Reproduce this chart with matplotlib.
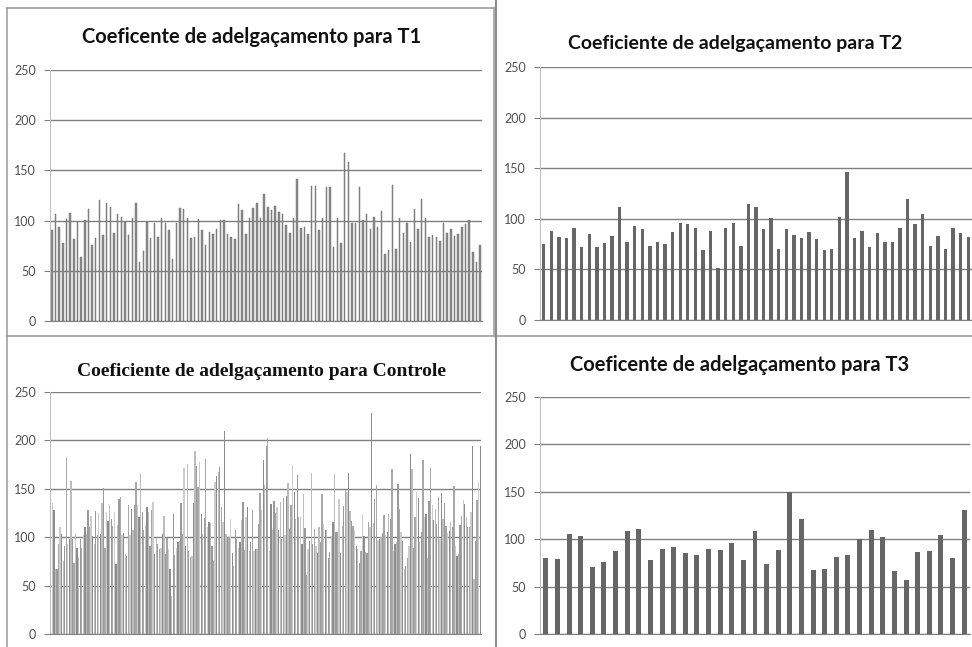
import matplotlib
matplotlib.use("Agg")
import matplotlib.pyplot as plt
from matplotlib.lines import Line2D

W, H = 972, 647

# valores
t1 = [91, 107, 94, 78, 102, 108, 82, 99, 64, 101, 112, 76, 83, 121, 86, 118, 114, 88,
      107, 104, 99, 86, 103, 118, 59, 70, 99, 83, 98, 84, 103, 98, 91, 62, 98, 113,
      112, 103, 83, 84, 102, 91, 76, 89, 87, 92, 101, 101, 87, 84, 82, 117, 111, 87,
      103, 113, 118, 103, 126, 114, 111, 115, 109, 107, 96, 88, 103, 141, 93, 94, 87,
      134, 134, 91, 103, 133, 133, 74, 103, 78, 167, 158, 98, 98, 133, 101, 107, 92,
      104, 94, 110, 67, 71, 135, 72, 103, 88, 98, 79, 112, 92, 122, 103, 84, 86, 84,
      80, 98, 88, 92, 85, 87, 94, 97, 101, 69, 59, 76]

t2 = [75, 88, 82, 81, 91, 72, 85, 72, 76, 83, 112, 77, 93, 90, 73, 77, 75, 87, 96,
      95, 91, 69, 88, 51, 91, 96, 73, 115, 112, 90, 101, 70, 90, 84, 81, 87, 80, 69,
      70, 102, 146, 81, 88, 72, 86, 77, 77, 91, 120, 95, 105, 73, 83, 70, 91, 86, 82]

controle = [250, 135, 128, 67, 67, 93, 111, 103, 75, 91, 182, 93, 98, 158, 98, 73, 104,
            89, 80, 98, 89, 102, 111, 103, 128, 111, 122, 101, 93, 127, 102, 125, 103,
            135, 151, 89, 126, 117, 133, 119, 112, 126, 72, 113, 139, 142, 102, 104, 83,
            81, 133, 102, 129, 107, 133, 157, 133, 121, 166, 126, 107, 113, 131, 126, 91,
            128, 136, 83, 99, 93, 88, 89, 103, 122, 83, 99, 88, 67, 39, 124, 82, 89, 95,
            96, 135, 103, 171, 91, 176, 86, 80, 81, 135, 189, 174, 152, 178, 124, 103,
            120, 181, 111, 116, 115, 91, 75, 157, 163, 167, 173, 131, 116, 210, 103, 100,
            100, 119, 84, 70, 107, 98, 89, 95, 118, 136, 87, 121, 131, 86, 95, 128, 86,
            88, 88, 114, 146, 128, 180, 154, 194, 202, 86, 134, 107, 137, 125, 131, 107,
            136, 98, 141, 102, 143, 156, 108, 133, 175, 147, 119, 164, 121, 122, 93, 145,
            110, 61, 88, 96, 166, 93, 108, 91, 84, 111, 95, 145, 114, 107, 107, 79, 85,
            101, 116, 165, 105, 105, 139, 84, 112, 132, 149, 147, 166, 127, 117, 112, 107,
            91, 88, 73, 86, 124, 101, 85, 84, 116, 111, 228, 115, 139, 154, 97, 98, 100,
            104, 123, 102, 105, 124, 119, 170, 86, 93, 95, 155, 129, 105, 96, 67, 70, 78,
            91, 186, 170, 89, 121, 147, 141, 95, 105, 180, 121, 124, 79, 137, 172, 133,
            118, 129, 114, 142, 98, 146, 119, 135, 112, 104, 106, 116, 111, 153, 91, 81,
            83, 113, 122, 138, 134, 121, 111, 111, 126, 194, 57, 96, 138, 157, 194]

t3 = [80, 79, 105, 103, 71, 76, 88, 109, 111, 78, 90, 92, 85, 83, 90, 89, 96, 78, 109,
      74, 89, 150, 121, 68, 69, 81, 83, 100, 110, 102, 66, 57, 87, 88, 104, 80, 131]

yticks = [0, 50, 100, 150, 200, 250]

fig = plt.figure(figsize=(W / 100, H / 100), dpi=100)
fig.patch.set_facecolor("white")


def px_axes(x0, x1, ytop, ybot):
    return fig.add_axes([x0 / W, 1 - ybot / H, (x1 - x0) / W, (ybot - ytop) / H])


def style(ax, n):
    ax.set_xlim(-0.5, n - 0.5)
    ax.set_ylim(0, 250)
    ax.set_yticks(yticks)
    ax.set_xticks([])
    ax.yaxis.grid(True, color="#808080", linewidth=1.0)
    ax.set_axisbelow(True)
    for s in ["top", "right"]:
        ax.spines[s].set_visible(False)
    ax.spines["left"].set_color("#c0c0c0")
    ax.spines["bottom"].set_color("#808080")
    ax.tick_params(axis="y", length=4, color="#808080", labelsize=9,
                   labelcolor="#505050", pad=6)
    for lab in ax.get_yticklabels():
        lab.set_family("Lato")


# T1
ax1 = px_axes(50, 482, 70, 321)
ax1.bar(range(len(t1)), t1, width=0.4, color="#8a8a8a", edgecolor="#6e6e6e", linewidth=0.3)
style(ax1, len(t1))
fig.text(252 / W, 1 - 37 / H, "Coeficente de adelgaçamento para T1", ha="center",
         va="center", fontsize=14.5, fontweight="bold", family="Lato", color="#111111")

# T2
ax2 = px_axes(540, 972, 67, 320)
ax2.bar(range(len(t2)), t2, width=0.45, color="#666666")
style(ax2, len(t2))
fig.text(735 / W, 1 - 44 / H, "Coeficiente de adelgaçamento para T2", ha="center",
         va="center", fontsize=14, fontweight="bold", family="Lato", color="#111111")

# Controle
ax3 = px_axes(50, 481, 392, 634)
shades = ["#a8a8a8", "#cccccc", "#8c8c8c", "#bdbdbd", "#9a9a9a"]
ax3.bar(range(len(controle)), controle, width=0.85,
        color=[shades[i % len(shades)] for i in range(len(controle))])
style(ax3, len(controle))
fig.text(261 / W, 1 - 372 / H, "Coeficiente de adelgaçamento para Controle", ha="center",
         va="center", fontsize=14, fontweight="bold", family="Liberation Serif",
         color="#111111")

# T3
ax4 = px_axes(540, 970, 397, 634)
ax4.bar(range(len(t3)), t3, width=0.43, color="#666666")
style(ax4, len(t3))
fig.text(740 / W, 1 - 365 / H, "Coeficente de adelgaçamento para T3", ha="center",
         va="center", fontsize=14.5, fontweight="bold", family="Lato", color="#111111")

# molduras dos painéis
def fline(xs, ys, c="#a0a0a0", lw=1.2):
    fig.add_artist(Line2D([x / W for x in xs], [1 - y / H for y in ys], color=c, lw=lw))

fline([7, 7], [8, 647])
fline([7, 494], [8, 8])
fline([494, 494], [8, 336])
fline([7, 972], [336, 336])
fline([496, 496], [0, 647], c="#8c8c8c", lw=1.5)

fig.savefig("out.png", dpi=100)
